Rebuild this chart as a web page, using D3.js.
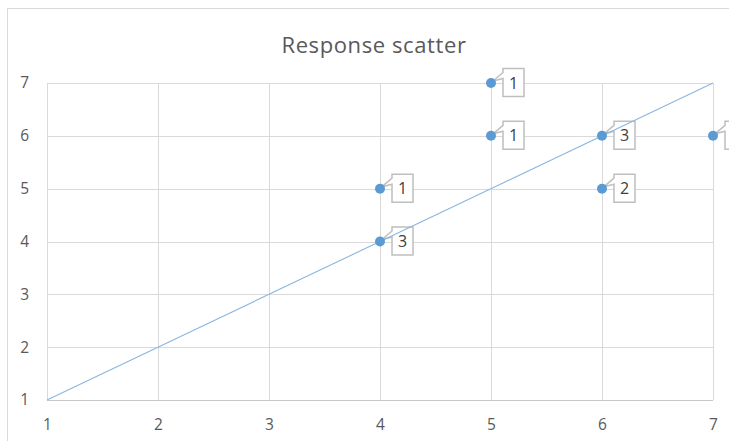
<!DOCTYPE html>
<html>
<head>
<meta charset="utf-8">
<script src="https://cdn.jsdelivr.net/npm/d3@7"></script>
<style>
  html, body { margin: 0; padding: 0; background: #fff; }
  svg { display: block; font-family: "Open Sans", "Noto Sans", sans-serif; }
</style>
</head>
<body>
<svg id="chart" width="729" height="441"></svg>
<script>
// Response pairs: x value, y value, and how many responses share that pair
const xValues = [4, 4, 5, 5, 6, 6, 7];
const yValues = [4, 5, 7, 6, 6, 5, 6];
const counts  = [3, 1, 1, 1, 3, 2, 1];

// Reference diagonal (y = x)
const diagX = [1, 7];
const diagY = [1, 7];

const xTicks = [1, 2, 3, 4, 5, 6, 7];
const yTicks = [1, 2, 3, 4, 5, 6, 7];
const title = "Response scatter";

const svg = d3.select("#chart");

// Chart frame (extends past the right/bottom edge of the view)
svg.append("rect")
  .attr("x", 7.5).attr("y", 8.5)
  .attr("width", 900).attr("height", 600)
  .attr("fill", "#fff").attr("stroke", "#d9d9d9").attr("stroke-width", 1);

const x = d3.scaleLinear().domain([1, 7]).range([47, 713]);
const y = d3.scaleLinear().domain([1, 7]).range([400, 83]);

// Gridlines
const grid = svg.append("g");
grid.selectAll("line.v").data(xTicks).join("line")
  .attr("x1", d => Math.round(x(d)) + 0.5).attr("x2", d => Math.round(x(d)) + 0.5)
  .attr("y1", y(7)).attr("y2", y(1))
  .attr("stroke", "#d9d9d9").attr("stroke-width", 1);
grid.selectAll("line.h").data(yTicks).join("line")
  .attr("y1", d => Math.round(y(d)) + 0.5).attr("y2", d => Math.round(y(d)) + 0.5)
  .attr("x1", x(1)).attr("x2", x(7))
  .attr("stroke", d => d === 1 ? "#c8c8c8" : "#d9d9d9").attr("stroke-width", 1);

// Axes (labels only)
const xAxis = svg.append("g")
  .attr("transform", `translate(0,${y(1)})`)
  .call(d3.axisBottom(x).tickValues(xTicks).tickSize(0).tickPadding(19).tickFormat(d3.format("d")));
const yAxis = svg.append("g")
  .attr("transform", `translate(${x(1)},0)`)
  .call(d3.axisLeft(y).tickValues(yTicks).tickSize(0).tickPadding(18).tickFormat(d3.format("d")));
[xAxis, yAxis].forEach(a => {
  a.select(".domain").remove();
  a.selectAll("text")
    .attr("fill", "#595959")
    .style("font-size", "15.5px")
    .style("font-family", "'Open Sans', 'Noto Sans', sans-serif");
});

// Title
svg.append("text")
  .attr("x", 374).attr("y", 53)
  .attr("text-anchor", "middle")
  .attr("fill", "#595959")
  .style("font-size", "22px")
  .style("letter-spacing", "0.6px")
  .text(title);

const data = xValues.map((v, i) => ({ x: v, y: yValues[i], n: counts[i] }));

// Callout labels with a wedge pointing back to the point
const bw = 21, bh = 28;
const callouts = svg.append("g");
data.forEach(d => {
  const px = x(d.x), py = y(d.y);
  const x0 = px + 12, y0 = py - 14.5;
  const x1 = x0 + bw, y1 = y0 + bh;
  const path = `M${x0},${y0} H${x1} V${y1} H${x0} V${y0 + 10} L${px + 2},${py - 2} L${x0},${y0 + 4} Z`;
  callouts.append("path")
    .attr("d", path)
    .attr("fill", "#fff")
    .attr("stroke", "#bfbfbf")
    .attr("stroke-width", 1.5);
  callouts.append("text")
    .attr("x", x0 + bw / 2).attr("y", y0 + bh / 2 + 6)
    .attr("text-anchor", "middle")
    .attr("fill", "#404040")
    .style("font-size", "16px")
    .text(d.n);
});

// Diagonal line
svg.append("path")
  .datum(diagX.map((v, i) => [v, diagY[i]]))
  .attr("d", d3.line().x(d => x(d[0])).y(d => y(d[1])))
  .attr("fill", "none")
  .attr("stroke", "#8ab6e0")
  .attr("stroke-width", 1.1);

// Points
svg.append("g").selectAll("circle").data(data).join("circle")
  .attr("cx", d => x(d.x)).attr("cy", d => y(d.y))
  .attr("r", 5)
  .attr("fill", "#5b9bd5");
</script>
</body>
</html>
